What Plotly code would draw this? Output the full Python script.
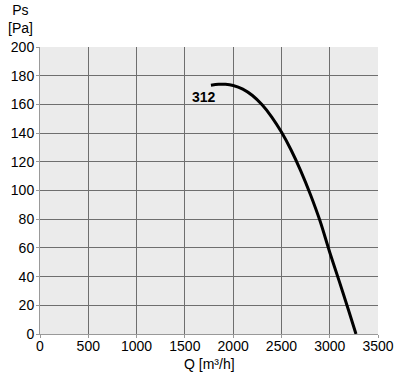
import plotly.graph_objects as go

q = [1770, 1850, 1920, 2000, 2100, 2200, 2300, 2400, 2500, 2600, 2700, 2800, 2900, 3000, 3100, 3200, 3272]
ps = [173.3, 174, 174, 173.2, 170.7, 166.2, 159.7, 151.2, 140.7, 128.2, 113.7, 97.2, 78.7, 57, 36.5, 15.5, 0]
x_ticks = [0, 500, 1000, 1500, 2000, 2500, 3000, 3500]
y_ticks = [0, 20, 40, 60, 80, 100, 120, 140, 160, 180, 200]
curve_label = "312"

FAM = "Liberation Sans, Arial, Helvetica, sans-serif"
font = dict(family=FAM, size=14, color="black")

fig = go.Figure()
fig.add_trace(go.Scatter(x=q, y=ps, mode="lines",
                         line=dict(color="black", width=3, shape="spline", smoothing=1),
                         showlegend=False, hoverinfo="skip"))
fig.add_annotation(x=1700, y=165, text="<b>" + curve_label + "</b>", showarrow=False,
                   font=dict(family=FAM, size=14, color="black"))

fig.update_layout(
    width=399, height=377,
    margin=dict(l=40, r=21, t=47, b=43, autoexpand=False),
    paper_bgcolor="white", plot_bgcolor="#ebebeb",
    font=font,
)
fig.update_xaxes(range=[0, 3500], tickvals=x_ticks, showgrid=True, gridcolor="#6e6e6e", gridwidth=1,
                 ticks="outside", ticklen=3, tickcolor="#999", zeroline=False, automargin=False,
                 ticklabelstandoff=-4,
                 showline=True, linecolor="#999", linewidth=1, mirror=False)
fig.update_yaxes(range=[0, 200], tickvals=y_ticks, showgrid=True, gridcolor="#6e6e6e", gridwidth=1,
                 ticks="outside", ticklen=3, tickcolor="#999", zeroline=False, automargin=False,
                 ticklabelstandoff=-1,
                 showline=True, linecolor="#999", linewidth=1)
fig.add_annotation(xref="paper", yref="paper", x=0.5, y=0, yshift=-30, yanchor="middle",
                   text="Q [m³/h]", showarrow=False, font=font)
fig.add_annotation(xref="paper", yref="paper", x=-0.059, y=1.0, yshift=9, yanchor="bottom",
                   xanchor="center", text="Ps<br>[Pa]", showarrow=False, font=font, align="center")

fig.write_html("out.html", config={"displayModeBar": False},
               post_script="document.body.style.margin='0';")
